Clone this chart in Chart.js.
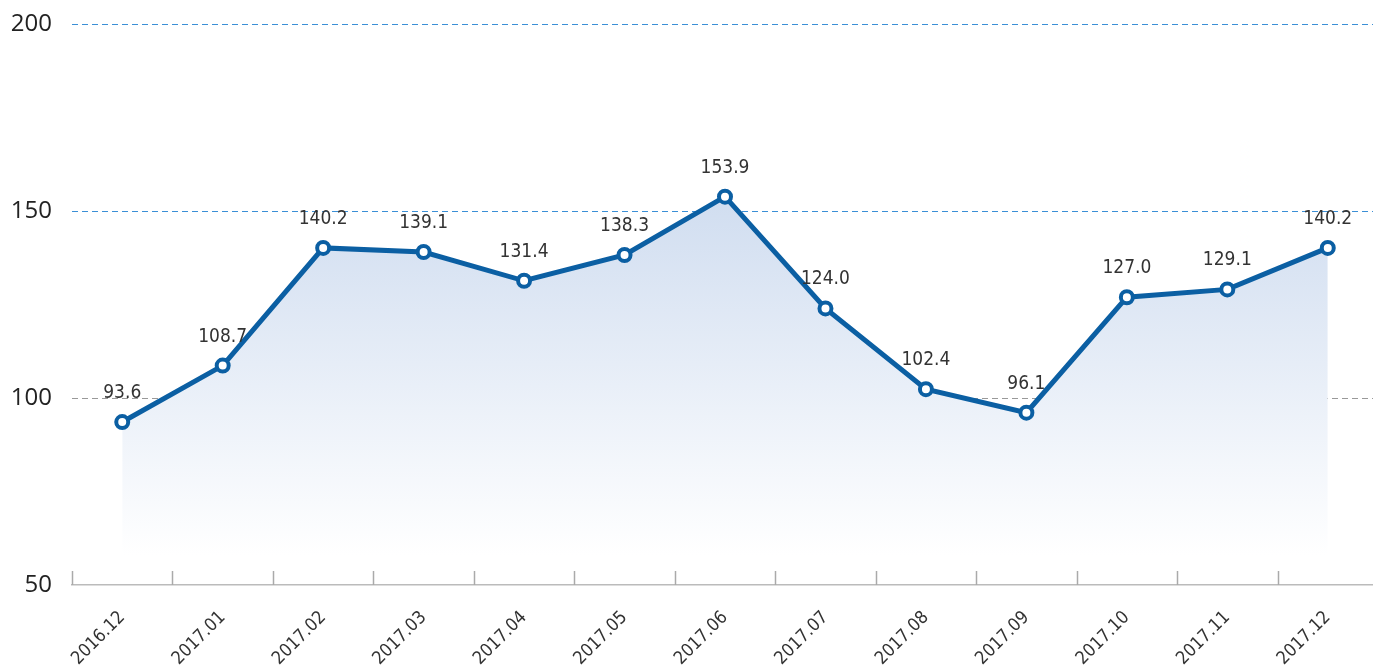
<!DOCTYPE html>
<html>
<head>
<meta charset="utf-8">
<script src="https://cdn.jsdelivr.net/npm/chart.js@4/dist/chart.umd.min.js"></script>
<style>
  html, body { margin: 0; padding: 0; background: #fff; overflow: hidden; }
  #wrap { width: 1373px; height: 670px; position: relative; overflow: hidden; }
  #interior { position: absolute; left: 0; top: -10px; width: 1388px; height: 680px; }
</style>
</head>
<body>
<div id="wrap"><div id="interior"><canvas id="grafico"></canvas></div></div>
<script>
// Datos del gráfico
var meses = ['2016.12', '2017.01', '2017.02', '2017.03', '2017.04', '2017.05', '2017.06',
             '2017.07', '2017.08', '2017.09', '2017.10', '2017.11', '2017.12'];
var valores = [93.6, 108.7, 140.2, 139.1, 131.4, 138.3, 153.9, 124.0, 102.4, 96.1, 127.0, 129.1, 140.2];
var marcasY = [50, 100, 150, 200];

var fuenteCondensada = "'DejaVu Sans Condensed', 'Liberation Sans Narrow', Roboto, sans-serif";
var azul = '#0b5fa3';

// Etiquetas de valor encima de cada punto
var etiquetasValor = {
    id: 'etiquetasValor',
    afterDatasetsDraw: function(chart) {
        var ctx = chart.ctx;
        var meta = chart.getDatasetMeta(0);
        ctx.save();
        ctx.fillStyle = '#333';
        ctx.font = '19px ' + fuenteCondensada;
        ctx.textAlign = 'center';
        ctx.textBaseline = 'alphabetic';
        meta.data.forEach(function(p, i) {
            ctx.fillText(valores[i].toFixed(1), p.x, p.y - 24);
        });
        ctx.restore();
    }
};

// Pequeñas marcas del eje X entre categorías
var marcasEjeX = {
    id: 'marcasEjeX',
    beforeDatasetsDraw: function(chart) {
        var x = chart.scales.x;
        var ctx = chart.ctx;
        var abajo = chart.chartArea.bottom;
        ctx.save();
        ctx.strokeStyle = '#aaa';
        ctx.lineWidth = 1.5;
        for (var i = 0; i < meses.length; i++) {
            var px = i === 0 ? chart.chartArea.left
                : (x.getPixelForValue(i - 1) + x.getPixelForValue(i)) / 2;
            px = Math.round(px) + 0.5;
            ctx.beginPath();
            ctx.moveTo(px, abajo - 14);
            ctx.lineTo(px, abajo);
            ctx.stroke();
        }
        ctx.restore();
    }
};

var ctx = document.getElementById('grafico').getContext('2d');
var grafico = new Chart(ctx, {
    type: 'line',
    data: {
        labels: meses,
        datasets: [{
            data: valores,
            borderColor: azul,
            borderWidth: 5,
            tension: 0,
            pointRadius: 6,
            pointHoverRadius: 6,
            pointBorderWidth: 4,
            pointBackgroundColor: '#fff',
            pointBorderColor: azul,
            fill: { value: 58 },
            backgroundColor: function(context) {
                var area = context.chart.chartArea;
                if (!area) return 'rgba(210,222,240,0.8)';
                var g = context.chart.ctx.createLinearGradient(0, area.top + 170, 0, area.bottom - 30);
                g.addColorStop(0, 'rgba(208,221,240,1)');
                g.addColorStop(1, 'rgba(255,255,255,1)');
                return g;
            }
        }]
    },
    options: {
        responsive: true,
        maintainAspectRatio: false,
        animation: false,
        layout: { padding: { top: 0, left: 0, right: 0, bottom: 0 } },
        plugins: {
            legend: { display: false },
            tooltip: { enabled: false }
        },
        scales: {
            x: {
                offset: true,
                grid: { display: false, drawTicks: false },
                border: { display: true, color: '#bbb', width: 1.5 },
                ticks: {
                    autoSkip: false,
                    maxRotation: 45,
                    minRotation: 45,
                    padding: 22,
                    color: '#333',
                    font: { size: 18, family: fuenteCondensada }
                },
                afterFit: function(s) { s.height = 85; }
            },
            y: {
                min: 50,
                max: 200,
                afterBuildTicks: function(s) {
                    s.ticks = marcasY.map(function(v) { return { value: v }; });
                },
                border: { display: false, dash: [6, 4] },
                grid: {
                    drawTicks: false,
                    color: function(c) {
                        if (c.index === 0) return 'rgba(0,0,0,0)';
                        if (c.index === 1) return '#999';
                        return '#3b8fd6';
                    },
                    lineWidth: 1
                },
                ticks: {
                    padding: 20,
                    color: '#222',
                    font: { size: 24, family: "'Open Sans', 'Noto Sans', sans-serif" }
                },
                afterFit: function(s) { s.width = 72; }
            }
        }
    },
    plugins: [marcasEjeX, etiquetasValor]
});
</script>
</body>
</html>
